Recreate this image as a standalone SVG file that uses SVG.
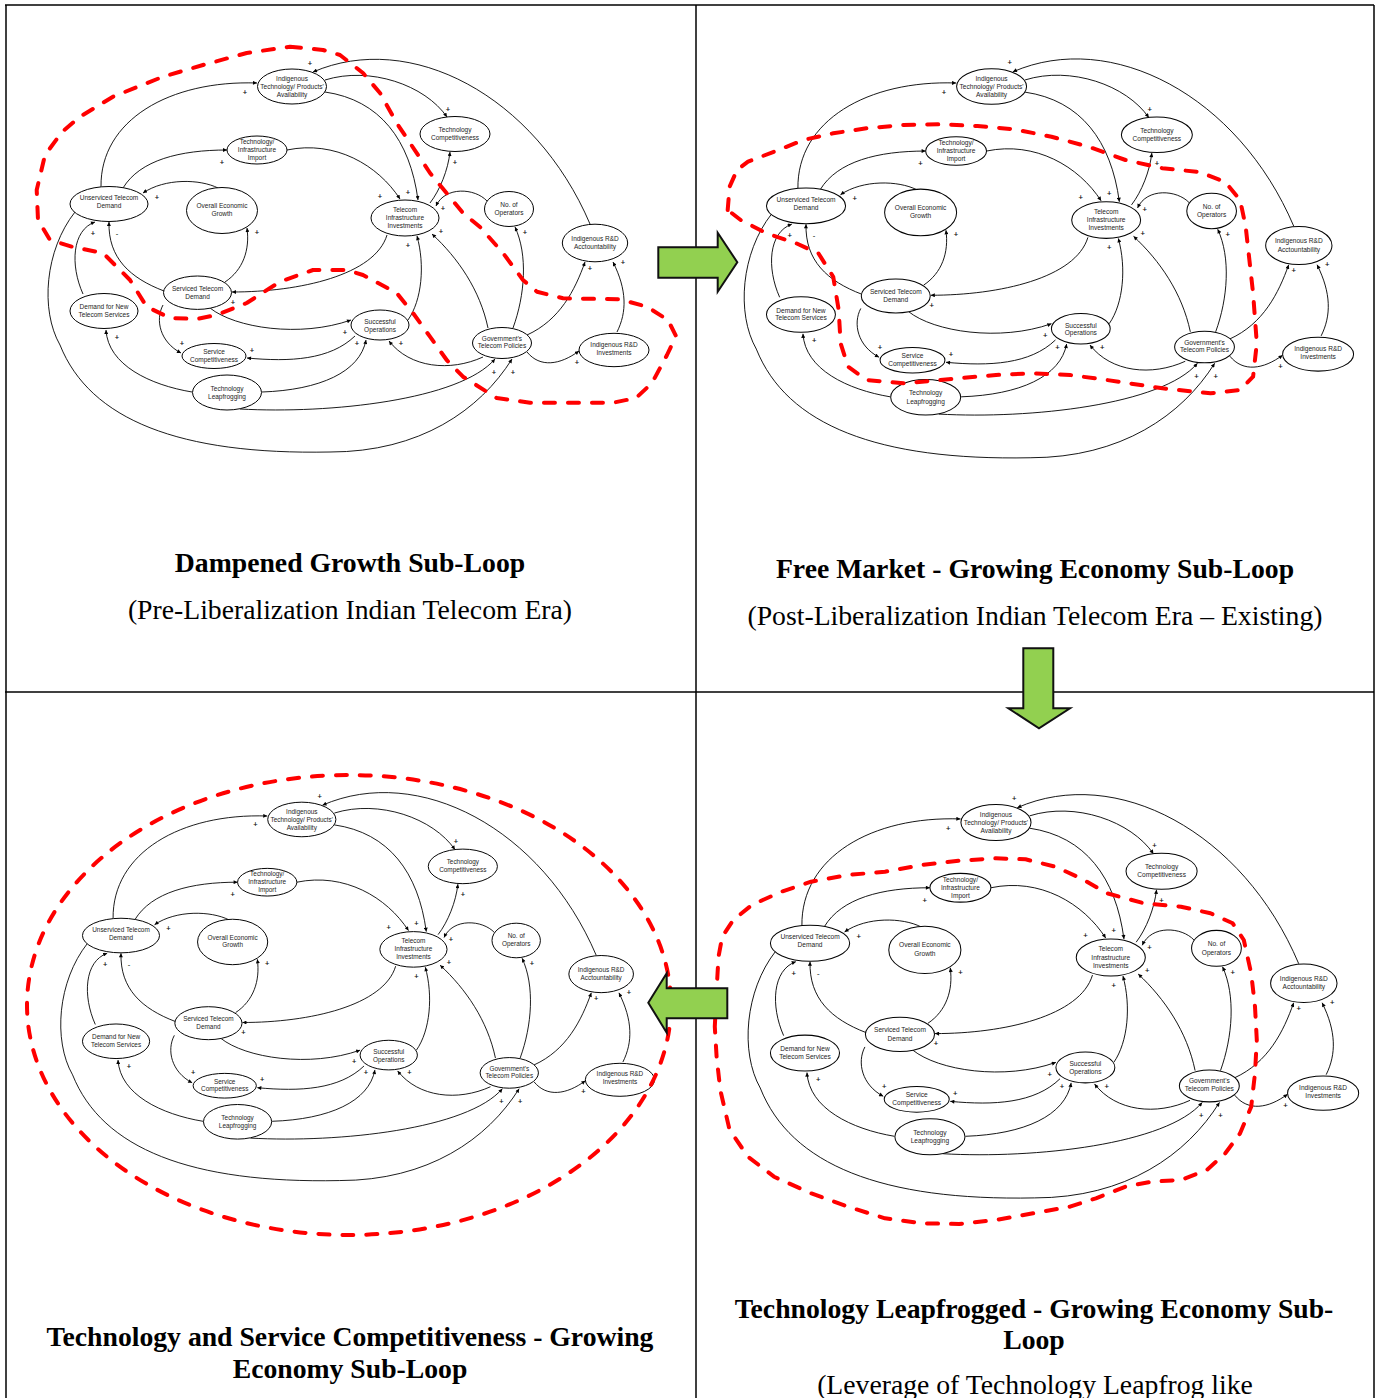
<svg xmlns="http://www.w3.org/2000/svg" width="1377" height="1398" viewBox="0 0 1377 1398">
<style>
.n ellipse{fill:#fff;stroke:#000;stroke-width:1}
.n text{font-family:"Liberation Sans",Arial,sans-serif;font-size:6.5px;fill:#222;text-anchor:middle}
.e path{fill:none;stroke:#000;stroke-width:0.9;marker-end:url(#ah)}
.e text{font-family:"Liberation Sans",Arial,sans-serif;font-size:7.5px;fill:#000;stroke:#000;stroke-width:0.15;text-anchor:middle}
.pn{opacity:0.99}
.loop{fill:none;stroke:#f00;stroke-width:4;stroke-dasharray:11 13;stroke-linecap:round;stroke-linejoin:round}
.ga{fill:#92d050;stroke:#111;stroke-width:2}
.fr{stroke:#000;stroke-width:1.5}
.t{font-family:"Liberation Serif","Times New Roman",serif;font-size:27.7px;fill:#000;text-anchor:middle}
.b{font-weight:bold}
</style>
<defs>
<marker id="ah" viewBox="0 0 10 10" refX="10" refY="5" markerUnits="userSpaceOnUse" markerWidth="5" markerHeight="4" orient="auto"><path d="M0,0 L10,5 L0,10 z" fill="#000"/></marker>
</defs>
<rect width="1377" height="1398" fill="#fff"/>
<g id="frame">
<line class="fr" x1="5" y1="5" x2="1374" y2="5"/>
<line class="fr" x1="6" y1="5" x2="6" y2="1398"/>
<line class="fr" x1="1374" y1="5" x2="1374" y2="1398"/>
<line class="fr" x1="696" y1="5" x2="696" y2="1398"/>
<line class="fr" x1="5" y1="692" x2="1374" y2="692"/>
</g>

<g id="panel1" class="pn">
<g id="p1-connectors" class="e">
<path d="M101,187 C100,120 170,80 257,83"/><text x="245" y="94.5">+</text>
<path d="M123,188 C140,160 180,150 227,150"/><text x="222" y="164.5">+</text>
<path d="M218,188 C200,179 165,178 143,193"/><text x="157" y="199.5">+</text>
<path d="M590,224 C535,95 410,30 313,72"/><text x="310" y="65.5">+</text>
<path d="M325,80 C370,66 425,85 447,117"/><text x="448" y="111.5">+</text>
<path d="M325,92 C380,100 410,140 418,200"/><text x="408" y="194.5">+</text>
<path d="M287,150 C335,140 378,165 400,199"/><text x="380" y="198.5">+</text>
<path d="M430,203 C440,190 448,170 450,152"/><text x="455" y="164.5">+</text>
<path d="M487,201 C475,188 445,186 436,206"/><text x="443" y="210.5">+</text>
<path d="M513,328 C525,295 528,255 515,227"/><text x="525" y="234.5">+</text>
<path d="M488,328 C480,290 458,258 432,234"/><text x="441" y="233.5">+</text>
<path d="M408,320 C422,300 425,265 417,236"/><text x="408" y="247.5">+</text>
<path d="M387,235 C375,275 300,292 232,292"/><text x="233" y="304.5">+</text>
<path d="M225,282 C243,270 250,250 247,228"/><text x="257" y="234.5">+</text>
<path d="M164,291 C130,278 108,258 109,222"/><text x="117" y="235.5">-</text>
<path d="M83,294 C70,265 72,230 95,222"/><text x="93" y="235.5">+</text>
<path d="M75,212 C45,250 40,310 60,345 C90,420 180,455 330,452 C420,452 480,410 512,359"/><text x="513" y="374.5">+</text>
<path d="M163,305 C155,320 160,342 181,353"/><text x="182" y="345.5">+</text>
<path d="M210,308 C235,328 300,338 351,320"/><text x="345" y="334.5">+</text>
<path d="M355,336 C330,360 290,362 247,358"/><text x="252" y="352.5">+</text>
<path d="M192,392 C150,385 108,365 106,330"/><text x="117" y="339.5">+</text>
<path d="M262,392 C320,390 360,372 366,340"/><text x="357" y="345.5">+</text>
<path d="M240,409 C330,414 460,400 495,359"/><text x="494" y="374.5">+</text>
<path d="M483,357 C450,372 410,368 389,341"/><text x="401" y="345.5">+</text>
<path d="M527,335 C560,320 575,290 585,262"/><text x="590" y="270.5">+</text>
<path d="M527,352 C540,368 560,365 579,351"/><text x="577" y="364.5">+</text>
<path d="M617,332 C627,312 627,290 613,262"/><text x="623" y="264.5">+</text>
</g>
<g id="p1-ind" class="n"><ellipse cx="292" cy="86.5" rx="34.5" ry="17.5"/><text x="292" y="80.8">Indigenous<tspan x="292" y="88.8">Technology/ Products'</tspan><tspan x="292" y="96.8">Availability</tspan></text></g>
<g id="p1-tii" class="n"><ellipse cx="257" cy="150" rx="30" ry="14"/><text x="257" y="144">Technology/<tspan x="257" y="152.3">Infrastructure</tspan><tspan x="257" y="160">Import</tspan></text></g>
<g id="p1-tc" class="n"><ellipse cx="455" cy="134" rx="35" ry="17.5"/><text x="455" y="132">Technology<tspan x="455" y="140">Competitiveness</tspan></text></g>
<g id="p1-utd" class="n"><ellipse cx="109" cy="204" rx="39" ry="17.5"/><text x="109" y="200">Unserviced Telecom<tspan x="109" y="208">Demand</tspan></text></g>
<g id="p1-oeg" class="n"><ellipse cx="222" cy="210.5" rx="35.5" ry="23"/><text x="222" y="208">Overall Economic<tspan x="222" y="216">Growth</tspan></text></g>
<g id="p1-tiinv" class="n"><ellipse cx="405" cy="218" rx="34" ry="18"/><text x="405" y="211.6">Telecom<tspan x="405" y="220">Infrastructure</tspan><tspan x="405" y="228">Investments</tspan></text></g>
<g id="p1-noo" class="n"><ellipse cx="509" cy="209" rx="24.5" ry="17.5"/><text x="509" y="206.6">No. of<tspan x="509" y="215">Operators</tspan></text></g>
<g id="p1-rda" class="n"><ellipse cx="595" cy="243" rx="32.7" ry="18.8"/><text x="595" y="240.6">Indigenous R&amp;D<tspan x="595" y="249">Acctountability</tspan></text></g>
<g id="p1-std" class="n"><ellipse cx="197.5" cy="292.7" rx="34" ry="16.7"/><text x="197.5" y="290.6">Serviced Telecom<tspan x="197.5" y="299">Demand</tspan></text></g>
<g id="p1-dnt" class="n"><ellipse cx="104" cy="311" rx="34" ry="17.5"/><text x="104" y="309">Demand for New<tspan x="104" y="316.6">Telecom Services</tspan></text></g>
<g id="p1-so" class="n"><ellipse cx="380" cy="325" rx="29" ry="15"/><text x="380" y="324">Successful<tspan x="380" y="331.6">Operations</tspan></text></g>
<g id="p1-sc" class="n"><ellipse cx="214" cy="356" rx="32" ry="12.5"/><text x="214" y="354">Service<tspan x="214" y="361.6">Competitiveness</tspan></text></g>
<g id="p1-gov" class="n"><ellipse cx="502" cy="343" rx="29.5" ry="15.5"/><text x="502" y="340.6">Government's<tspan x="502" y="348.3">Telecom Policies</tspan></text></g>
<g id="p1-rdi" class="n"><ellipse cx="614" cy="350" rx="35" ry="16.7"/><text x="614" y="346.6">Indigenous R&amp;D<tspan x="614" y="354.6">Investments</tspan></text></g>
<g id="p1-tl" class="n"><ellipse cx="227" cy="392.5" rx="34.5" ry="17.5"/><text x="227" y="390.6">Technology<tspan x="227" y="399">Leapfrogging</tspan></text></g>
</g>

<g id="panel2" class="pn" transform="translate(695.5,-1.3) scale(1.014,1.0156)">
<g id="p2-connectors" class="e">
<path d="M101,187 C100,120 170,80 257,83"/><text x="245" y="94.5">+</text>
<path d="M123,188 C140,160 180,150 227,150"/><text x="222" y="164.5">+</text>
<path d="M218,188 C200,179 165,178 143,193"/><text x="157" y="199.5">+</text>
<path d="M590,224 C535,95 410,30 313,72"/><text x="310" y="65.5">+</text>
<path d="M325,80 C370,66 425,85 447,117"/><text x="448" y="111.5">+</text>
<path d="M325,92 C380,100 410,140 418,200"/><text x="408" y="194.5">+</text>
<path d="M287,150 C335,140 378,165 400,199"/><text x="380" y="198.5">+</text>
<path d="M430,203 C440,190 448,170 450,152"/><text x="455" y="164.5">+</text>
<path d="M487,201 C475,188 445,186 436,206"/><text x="443" y="210.5">+</text>
<path d="M513,328 C525,295 528,255 515,227"/><text x="525" y="234.5">+</text>
<path d="M488,328 C480,290 458,258 432,234"/><text x="441" y="233.5">+</text>
<path d="M408,320 C422,300 425,265 417,236"/><text x="408" y="247.5">+</text>
<path d="M387,235 C375,275 300,292 232,292"/><text x="233" y="304.5">+</text>
<path d="M225,282 C243,270 250,250 247,228"/><text x="257" y="234.5">+</text>
<path d="M164,291 C130,278 108,258 109,222"/><text x="117" y="235.5">-</text>
<path d="M83,294 C70,265 72,230 95,222"/><text x="93" y="235.5">+</text>
<path d="M75,212 C45,250 40,310 60,345 C90,420 180,455 330,452 C420,452 480,410 512,359"/><text x="513" y="374.5">+</text>
<path d="M163,305 C155,320 160,342 181,353"/><text x="182" y="345.5">+</text>
<path d="M210,308 C235,328 300,338 351,320"/><text x="345" y="334.5">+</text>
<path d="M355,336 C330,360 290,362 247,358"/><text x="252" y="352.5">+</text>
<path d="M192,392 C150,385 108,365 106,330"/><text x="117" y="339.5">+</text>
<path d="M262,392 C320,390 360,372 366,340"/><text x="357" y="345.5">+</text>
<path d="M240,409 C330,414 460,400 495,359"/><text x="494" y="374.5">+</text>
<path d="M483,357 C450,372 410,368 389,341"/><text x="401" y="345.5">+</text>
<path d="M527,335 C560,320 575,290 585,262"/><text x="590" y="270.5">+</text>
<path d="M527,352 C540,368 560,365 579,351"/><text x="577" y="364.5">+</text>
<path d="M617,332 C627,312 627,290 613,262"/><text x="623" y="264.5">+</text>
</g>
<g id="p2-ind" class="n"><ellipse cx="292" cy="86.5" rx="34.5" ry="17.5"/><text x="292" y="80.8">Indigenous<tspan x="292" y="88.8">Technology/ Products'</tspan><tspan x="292" y="96.8">Availability</tspan></text></g>
<g id="p2-tii" class="n"><ellipse cx="257" cy="150" rx="30" ry="14"/><text x="257" y="144">Technology/<tspan x="257" y="152.3">Infrastructure</tspan><tspan x="257" y="160">Import</tspan></text></g>
<g id="p2-tc" class="n"><ellipse cx="455" cy="134" rx="35" ry="17.5"/><text x="455" y="132">Technology<tspan x="455" y="140">Competitiveness</tspan></text></g>
<g id="p2-utd" class="n"><ellipse cx="109" cy="204" rx="39" ry="17.5"/><text x="109" y="200">Unserviced Telecom<tspan x="109" y="208">Demand</tspan></text></g>
<g id="p2-oeg" class="n"><ellipse cx="222" cy="210.5" rx="35.5" ry="23"/><text x="222" y="208">Overall Economic<tspan x="222" y="216">Growth</tspan></text></g>
<g id="p2-tiinv" class="n"><ellipse cx="405" cy="218" rx="34" ry="18"/><text x="405" y="211.6">Telecom<tspan x="405" y="220">Infrastructure</tspan><tspan x="405" y="228">Investments</tspan></text></g>
<g id="p2-noo" class="n"><ellipse cx="509" cy="209" rx="24.5" ry="17.5"/><text x="509" y="206.6">No. of<tspan x="509" y="215">Operators</tspan></text></g>
<g id="p2-rda" class="n"><ellipse cx="595" cy="243" rx="32.7" ry="18.8"/><text x="595" y="240.6">Indigenous R&amp;D<tspan x="595" y="249">Acctountability</tspan></text></g>
<g id="p2-std" class="n"><ellipse cx="197.5" cy="292.7" rx="34" ry="16.7"/><text x="197.5" y="290.6">Serviced Telecom<tspan x="197.5" y="299">Demand</tspan></text></g>
<g id="p2-dnt" class="n"><ellipse cx="104" cy="311" rx="34" ry="17.5"/><text x="104" y="309">Demand for New<tspan x="104" y="316.6">Telecom Services</tspan></text></g>
<g id="p2-so" class="n"><ellipse cx="380" cy="325" rx="29" ry="15"/><text x="380" y="324">Successful<tspan x="380" y="331.6">Operations</tspan></text></g>
<g id="p2-sc" class="n"><ellipse cx="214" cy="356" rx="32" ry="12.5"/><text x="214" y="354">Service<tspan x="214" y="361.6">Competitiveness</tspan></text></g>
<g id="p2-gov" class="n"><ellipse cx="502" cy="343" rx="29.5" ry="15.5"/><text x="502" y="340.6">Government's<tspan x="502" y="348.3">Telecom Policies</tspan></text></g>
<g id="p2-rdi" class="n"><ellipse cx="614" cy="350" rx="35" ry="16.7"/><text x="614" y="346.6">Indigenous R&amp;D<tspan x="614" y="354.6">Investments</tspan></text></g>
<g id="p2-tl" class="n"><ellipse cx="227" cy="392.5" rx="34.5" ry="17.5"/><text x="227" y="390.6">Technology<tspan x="227" y="399">Leapfrogging</tspan></text></g>
</g>

<g id="panel3" class="pn" transform="translate(13.3,734) scale(0.988)">
<g id="p3-connectors" class="e">
<path d="M101,187 C100,120 170,80 257,83"/><text x="245" y="94.5">+</text>
<path d="M123,188 C140,160 180,150 227,150"/><text x="222" y="164.5">+</text>
<path d="M218,188 C200,179 165,178 143,193"/><text x="157" y="199.5">+</text>
<path d="M590,224 C535,95 410,30 313,72"/><text x="310" y="65.5">+</text>
<path d="M325,80 C370,66 425,85 447,117"/><text x="448" y="111.5">+</text>
<path d="M325,92 C380,100 410,140 418,200"/><text x="408" y="194.5">+</text>
<path d="M287,150 C335,140 378,165 400,199"/><text x="380" y="198.5">+</text>
<path d="M430,203 C440,190 448,170 450,152"/><text x="455" y="164.5">+</text>
<path d="M487,201 C475,188 445,186 436,206"/><text x="443" y="210.5">+</text>
<path d="M513,328 C525,295 528,255 515,227"/><text x="525" y="234.5">+</text>
<path d="M488,328 C480,290 458,258 432,234"/><text x="441" y="233.5">+</text>
<path d="M408,320 C422,300 425,265 417,236"/><text x="408" y="247.5">+</text>
<path d="M387,235 C375,275 300,292 232,292"/><text x="233" y="304.5">+</text>
<path d="M225,282 C243,270 250,250 247,228"/><text x="257" y="234.5">+</text>
<path d="M164,291 C130,278 108,258 109,222"/><text x="117" y="235.5">-</text>
<path d="M83,294 C70,265 72,230 95,222"/><text x="93" y="235.5">+</text>
<path d="M75,212 C45,250 40,310 60,345 C90,420 180,455 330,452 C420,452 480,410 512,359"/><text x="513" y="374.5">+</text>
<path d="M163,305 C155,320 160,342 181,353"/><text x="182" y="345.5">+</text>
<path d="M210,308 C235,328 300,338 351,320"/><text x="345" y="334.5">+</text>
<path d="M355,336 C330,360 290,362 247,358"/><text x="252" y="352.5">+</text>
<path d="M192,392 C150,385 108,365 106,330"/><text x="117" y="339.5">+</text>
<path d="M262,392 C320,390 360,372 366,340"/><text x="357" y="345.5">+</text>
<path d="M240,409 C330,414 460,400 495,359"/><text x="494" y="374.5">+</text>
<path d="M483,357 C450,372 410,368 389,341"/><text x="401" y="345.5">+</text>
<path d="M527,335 C560,320 575,290 585,262"/><text x="590" y="270.5">+</text>
<path d="M527,352 C540,368 560,365 579,351"/><text x="577" y="364.5">+</text>
<path d="M617,332 C627,312 627,290 613,262"/><text x="623" y="264.5">+</text>
</g>
<g id="p3-ind" class="n"><ellipse cx="292" cy="86.5" rx="34.5" ry="17.5"/><text x="292" y="80.8">Indigenous<tspan x="292" y="88.8">Technology/ Products'</tspan><tspan x="292" y="96.8">Availability</tspan></text></g>
<g id="p3-tii" class="n"><ellipse cx="257" cy="150" rx="30" ry="14"/><text x="257" y="144">Technology/<tspan x="257" y="152.3">Infrastructure</tspan><tspan x="257" y="160">Import</tspan></text></g>
<g id="p3-tc" class="n"><ellipse cx="455" cy="134" rx="35" ry="17.5"/><text x="455" y="132">Technology<tspan x="455" y="140">Competitiveness</tspan></text></g>
<g id="p3-utd" class="n"><ellipse cx="109" cy="204" rx="39" ry="17.5"/><text x="109" y="200">Unserviced Telecom<tspan x="109" y="208">Demand</tspan></text></g>
<g id="p3-oeg" class="n"><ellipse cx="222" cy="210.5" rx="35.5" ry="23"/><text x="222" y="208">Overall Economic<tspan x="222" y="216">Growth</tspan></text></g>
<g id="p3-tiinv" class="n"><ellipse cx="405" cy="218" rx="34" ry="18"/><text x="405" y="211.6">Telecom<tspan x="405" y="220">Infrastructure</tspan><tspan x="405" y="228">Investments</tspan></text></g>
<g id="p3-noo" class="n"><ellipse cx="509" cy="209" rx="24.5" ry="17.5"/><text x="509" y="206.6">No. of<tspan x="509" y="215">Operators</tspan></text></g>
<g id="p3-rda" class="n"><ellipse cx="595" cy="243" rx="32.7" ry="18.8"/><text x="595" y="240.6">Indigenous R&amp;D<tspan x="595" y="249">Acctountability</tspan></text></g>
<g id="p3-std" class="n"><ellipse cx="197.5" cy="292.7" rx="34" ry="16.7"/><text x="197.5" y="290.6">Serviced Telecom<tspan x="197.5" y="299">Demand</tspan></text></g>
<g id="p3-dnt" class="n"><ellipse cx="104" cy="311" rx="34" ry="17.5"/><text x="104" y="309">Demand for New<tspan x="104" y="316.6">Telecom Services</tspan></text></g>
<g id="p3-so" class="n"><ellipse cx="380" cy="325" rx="29" ry="15"/><text x="380" y="324">Successful<tspan x="380" y="331.6">Operations</tspan></text></g>
<g id="p3-sc" class="n"><ellipse cx="214" cy="356" rx="32" ry="12.5"/><text x="214" y="354">Service<tspan x="214" y="361.6">Competitiveness</tspan></text></g>
<g id="p3-gov" class="n"><ellipse cx="502" cy="343" rx="29.5" ry="15.5"/><text x="502" y="340.6">Government's<tspan x="502" y="348.3">Telecom Policies</tspan></text></g>
<g id="p3-rdi" class="n"><ellipse cx="614" cy="350" rx="35" ry="16.7"/><text x="614" y="346.6">Indigenous R&amp;D<tspan x="614" y="354.6">Investments</tspan></text></g>
<g id="p3-tl" class="n"><ellipse cx="227" cy="392.5" rx="34.5" ry="17.5"/><text x="227" y="390.6">Technology<tspan x="227" y="399">Leapfrogging</tspan></text></g>
</g>

<g id="panel4" class="pn" transform="translate(699.3,733.7) scale(1.016,1.027)">
<g id="p4-connectors" class="e">
<path d="M101,187 C100,120 170,80 257,83"/><text x="245" y="94.5">+</text>
<path d="M123,188 C140,160 180,150 227,150"/><text x="222" y="164.5">+</text>
<path d="M218,188 C200,179 165,178 143,193"/><text x="157" y="199.5">+</text>
<path d="M590,224 C535,95 410,30 313,72"/><text x="310" y="65.5">+</text>
<path d="M325,80 C370,66 425,85 447,117"/><text x="448" y="111.5">+</text>
<path d="M325,92 C380,100 410,140 418,200"/><text x="408" y="194.5">+</text>
<path d="M287,150 C335,140 378,165 400,199"/><text x="380" y="198.5">+</text>
<path d="M430,203 C440,190 448,170 450,152"/><text x="455" y="164.5">+</text>
<path d="M487,201 C475,188 445,186 436,206"/><text x="443" y="210.5">+</text>
<path d="M513,328 C525,295 528,255 515,227"/><text x="525" y="234.5">+</text>
<path d="M488,328 C480,290 458,258 432,234"/><text x="441" y="233.5">+</text>
<path d="M408,320 C422,300 425,265 417,236"/><text x="408" y="247.5">+</text>
<path d="M387,235 C375,275 300,292 232,292"/><text x="233" y="304.5">+</text>
<path d="M225,282 C243,270 250,250 247,228"/><text x="257" y="234.5">+</text>
<path d="M164,291 C130,278 108,258 109,222"/><text x="117" y="235.5">-</text>
<path d="M83,294 C70,265 72,230 95,222"/><text x="93" y="235.5">+</text>
<path d="M75,212 C45,250 40,310 60,345 C90,420 180,455 330,452 C420,452 480,410 512,359"/><text x="513" y="374.5">+</text>
<path d="M163,305 C155,320 160,342 181,353"/><text x="182" y="345.5">+</text>
<path d="M210,308 C235,328 300,338 351,320"/><text x="345" y="334.5">+</text>
<path d="M355,336 C330,360 290,362 247,358"/><text x="252" y="352.5">+</text>
<path d="M192,392 C150,385 108,365 106,330"/><text x="117" y="339.5">+</text>
<path d="M262,392 C320,390 360,372 366,340"/><text x="357" y="345.5">+</text>
<path d="M240,409 C330,414 460,400 495,359"/><text x="494" y="374.5">+</text>
<path d="M483,357 C450,372 410,368 389,341"/><text x="401" y="345.5">+</text>
<path d="M527,335 C560,320 575,290 585,262"/><text x="590" y="270.5">+</text>
<path d="M527,352 C540,368 560,365 579,351"/><text x="577" y="364.5">+</text>
<path d="M617,332 C627,312 627,290 613,262"/><text x="623" y="264.5">+</text>
</g>
<g id="p4-ind" class="n"><ellipse cx="292" cy="86.5" rx="34.5" ry="17.5"/><text x="292" y="80.8">Indigenous<tspan x="292" y="88.8">Technology/ Products'</tspan><tspan x="292" y="96.8">Availability</tspan></text></g>
<g id="p4-tii" class="n"><ellipse cx="257" cy="150" rx="30" ry="14"/><text x="257" y="144">Technology/<tspan x="257" y="152.3">Infrastructure</tspan><tspan x="257" y="160">Import</tspan></text></g>
<g id="p4-tc" class="n"><ellipse cx="455" cy="134" rx="35" ry="17.5"/><text x="455" y="132">Technology<tspan x="455" y="140">Competitiveness</tspan></text></g>
<g id="p4-utd" class="n"><ellipse cx="109" cy="204" rx="39" ry="17.5"/><text x="109" y="200">Unserviced Telecom<tspan x="109" y="208">Demand</tspan></text></g>
<g id="p4-oeg" class="n"><ellipse cx="222" cy="210.5" rx="35.5" ry="23"/><text x="222" y="208">Overall Economic<tspan x="222" y="216">Growth</tspan></text></g>
<g id="p4-tiinv" class="n"><ellipse cx="405" cy="218" rx="34" ry="18"/><text x="405" y="211.6">Telecom<tspan x="405" y="220">Infrastructure</tspan><tspan x="405" y="228">Investments</tspan></text></g>
<g id="p4-noo" class="n"><ellipse cx="509" cy="209" rx="24.5" ry="17.5"/><text x="509" y="206.6">No. of<tspan x="509" y="215">Operators</tspan></text></g>
<g id="p4-rda" class="n"><ellipse cx="595" cy="243" rx="32.7" ry="18.8"/><text x="595" y="240.6">Indigenous R&amp;D<tspan x="595" y="249">Acctountability</tspan></text></g>
<g id="p4-std" class="n"><ellipse cx="197.5" cy="292.7" rx="34" ry="16.7"/><text x="197.5" y="290.6">Serviced Telecom<tspan x="197.5" y="299">Demand</tspan></text></g>
<g id="p4-dnt" class="n"><ellipse cx="104" cy="311" rx="34" ry="17.5"/><text x="104" y="309">Demand for New<tspan x="104" y="316.6">Telecom Services</tspan></text></g>
<g id="p4-so" class="n"><ellipse cx="380" cy="325" rx="29" ry="15"/><text x="380" y="324">Successful<tspan x="380" y="331.6">Operations</tspan></text></g>
<g id="p4-sc" class="n"><ellipse cx="214" cy="356" rx="32" ry="12.5"/><text x="214" y="354">Service<tspan x="214" y="361.6">Competitiveness</tspan></text></g>
<g id="p4-gov" class="n"><ellipse cx="502" cy="343" rx="29.5" ry="15.5"/><text x="502" y="340.6">Government's<tspan x="502" y="348.3">Telecom Policies</tspan></text></g>
<g id="p4-rdi" class="n"><ellipse cx="614" cy="350" rx="35" ry="16.7"/><text x="614" y="346.6">Indigenous R&amp;D<tspan x="614" y="354.6">Investments</tspan></text></g>
<g id="p4-tl" class="n"><ellipse cx="227" cy="392.5" rx="34.5" ry="17.5"/><text x="227" y="390.6">Technology<tspan x="227" y="399">Leapfrogging</tspan></text></g>
</g>

<g id="loops">
<path class="loop" d="M290,46.7 L323,50 L340,55 L363,73 L380,93 L396.7,123 L430,173 L463,213 L480,227 L503,253 L523,280 L537,291.7 L563,298.3 L620,299.3 L647,306.7 L668,320 L676,336 L667,355 L652,383 L636,398 L613,402.7 L530,402.7 L496.7,398 L463,376.7 L446.7,360 L430,336.7 L413,313 L396.7,293 L363,275 L346.7,270 L313,270 L280,281.7 L246.7,303 L216.7,315 L196.7,319 L170,318 L146.7,306.7 L130,280 L103,253 L73,247 L50,240 L38,220 L36.7,190 L45,155 L62,132 L80,116.7 L113,96.7 L163,76.7 L203,65 L246.7,53 Z"/>
<path class="loop" d="M727.7,210 L729.6,186.7 L737,170 L748,161.7 L774,151.7 L803.6,140 L833.2,133.3 L866.5,128.3 L903.5,125 L940.5,124.3 L977.5,126 L1014.5,129.3 L1051.5,136.7 L1088.5,146.7 L1125.5,160 L1162.5,168.3 L1199.4,172 L1225.3,182 L1240.1,200 L1245.7,226.7 L1249.4,260 L1253.1,293.3 L1256.8,343.3 L1253.1,376.7 L1240.1,390 L1210.5,393.3 L1162.5,388.3 L1107,380 L1070,375 L1033,373.3 L996,375 L959,378.3 L903.5,383.3 L866.5,380 L848,366.7 L840.6,343.3 L838.7,310 L833.2,276.7 L818.4,253.3 L796.2,243.3 L766.6,233.3 L740.7,220 Z"/>
<ellipse class="loop" cx="349" cy="1005" rx="322" ry="230"/>
<path class="loop" d="M714.8,1026.7 L716.6,990 L718.5,956.7 L722.2,936.7 L733.3,920 L751.8,905 L781.4,891.7 L811,881.7 L848,875 L885,871.7 L922,865 L959,860.7 L996,858.3 L1025.6,859.3 L1055.2,866.7 L1081,878.3 L1107,893.3 L1144,903.3 L1181,906.7 L1210.5,913.3 L1232.7,923.3 L1243.8,940 L1251.2,973.3 L1255,1006.7 L1256.8,1040 L1255,1073.3 L1251.2,1106.7 L1240.1,1133.3 L1225.3,1153.3 L1206.8,1170 L1181,1180 L1151.4,1181.7 L1125.5,1186.7 L1095.9,1198.3 L1070,1206.7 L1033,1213.3 L996,1220 L959,1224 L922,1223.3 L885,1218.3 L848,1206.7 L811,1193.3 L774,1176.7 L748,1156.7 L729.6,1130 L720.3,1090 L716.6,1056.7 Z"/>
</g>

<g id="arrows">
<polygon class="ga" points="658.3,247.3 717.7,247.3 717.7,232.7 737.3,262.3 717.7,291.7 717.7,277.7 658.3,277.7"/>
<polygon class="ga" points="1023.3,648.3 1053.3,648.3 1053.3,708.3 1070,708.3 1039,728.3 1008.3,708.3 1023.3,708.3"/>
<polygon class="ga" points="727.3,988.3 666.7,988.3 666.7,973.3 648.3,1002.7 666.7,1032.7 666.7,1018.3 727.3,1018.3"/>
</g>

<g id="captions">
<text class="t b" x="350" y="572">Dampened Growth Sub-Loop</text>
<text class="t" x="350" y="619">(Pre-Liberalization Indian Telecom Era)</text>
<text class="t b" x="1035" y="578">Free Market - Growing Economy Sub-Loop</text>
<text class="t" x="1035" y="625">(Post-Liberalization Indian Telecom Era – Existing)</text>
<text class="t b" x="350" y="1346">Technology and Service Competitiveness - Growing</text>
<text class="t b" x="350" y="1378">Economy Sub-Loop</text>
<text class="t b" x="1034" y="1318">Technology Leapfrogged - Growing Economy Sub-</text>
<text class="t b" x="1034" y="1349">Loop</text>
<text class="t" x="1035" y="1394">(Leverage of Technology Leapfrog like</text>
</g>
</svg>
